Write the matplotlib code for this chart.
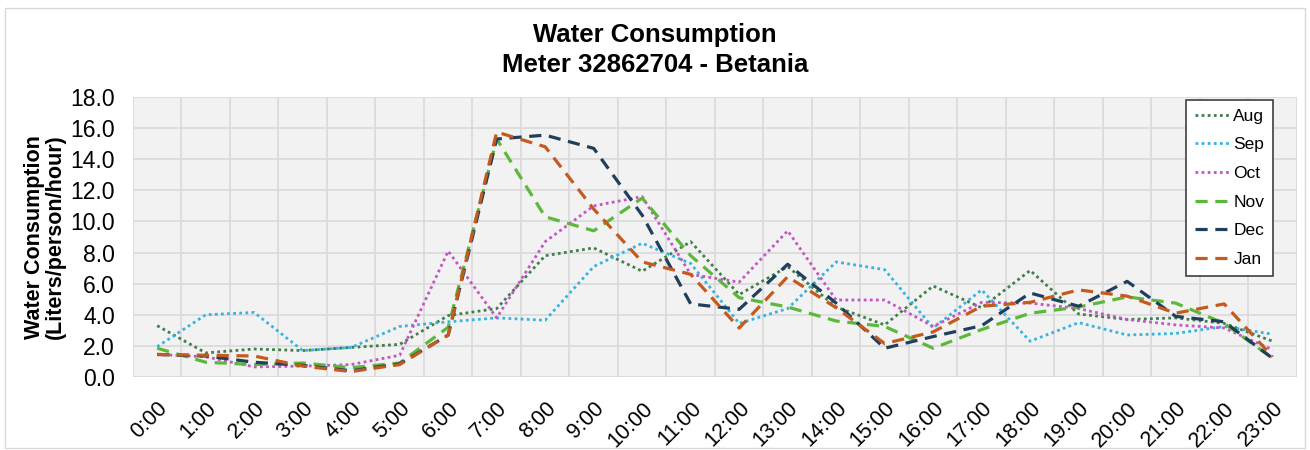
import numpy as np
import matplotlib.pyplot as plt
from matplotlib.patches import Rectangle

# hourly values (liters/person/hour)
hours = [f"{h}:00" for h in range(24)]
aug = [3.3, 1.55, 1.8, 1.7, 1.9, 2.1, 3.95, 4.4, 7.8, 8.3, 6.8, 8.7,
       5.3, 7.1, 4.5, 3.35, 5.85, 4.45, 6.85, 4.05, 3.7, 3.8, 3.45, 2.3]
sep = [1.95, 4.0, 4.15, 1.7, 1.9, 3.25, 3.55, 3.8, 3.65, 7.1, 8.6, 7.3,
       3.45, 4.4, 7.4, 6.9, 3.15, 5.6, 2.3, 3.5, 2.7, 2.8, 3.25, 2.75]
oct_ = [1.45, 1.3, 0.65, 0.7, 0.8, 1.4, 8.1, 3.8, 8.7, 11.0, 11.6, 6.6,
        6.1, 9.4, 4.95, 4.95, 3.25, 4.8, 4.75, 4.4, 3.7, 3.35, 3.15, 1.75]
nov = [1.85, 0.95, 0.8, 0.9, 0.6, 0.9, 3.2, 15.3, 10.3, 9.4, 11.5, 7.8,
       5.1, 4.5, 3.6, 3.25, 1.85, 3.05, 4.1, 4.5, 5.15, 4.75, 3.45, 1.2]
dec = [1.45, 1.35, 0.95, 0.75, 0.4, 0.85, 2.7, 15.3, 15.55, 14.7, 10.4, 4.7,
       4.35, 7.25, 4.75, 1.85, 2.6, 3.3, 5.4, 4.55, 6.15, 3.9, 3.55, 1.2]
jan = [1.45, 1.4, 1.35, 0.7, 0.35, 0.8, 2.7, 15.75, 14.8, 10.8, 7.4, 6.6,
       3.15, 6.45, 4.45, 2.15, 2.9, 4.55, 4.8, 5.6, 5.2, 4.1, 4.7, 1.3]

series = [
    ("Aug", aug, "#3f7f4a", "dot"),
    ("Sep", sep, "#35b4e0", "dot"),
    ("Oct", oct_, "#c455c4", "dot"),
    ("Nov", nov, "#5cb83a", "dash"),
    ("Dec", dec, "#1f3f5c", "dash"),
    ("Jan", jan, "#c55a1e", "dash"),
]

plt.rcParams['font.family'] = ['Liberation Sans', 'DejaVu Sans']

fig = plt.figure(figsize=(13.1, 4.5), dpi=100)
ax = fig.add_axes([0.1015, 0.1622, 0.8885, 0.6222])

# light frame round the whole chart
fig.patches.append(Rectangle((5 / 1310, 2 / 450), 1300 / 1310, 440 / 450,
                             transform=fig.transFigure, fill=False,
                             edgecolor="#d9d9d9", linewidth=1))

x = np.arange(len(hours))
for name, vals, color, style in series:
    if style == "dot":
        ax.plot(x, vals, color=color, linewidth=2.0, linestyle=(0, (1, 1.2)),
                label=name)
    else:
        ax.plot(x, vals, color=color, linewidth=2.3, linestyle=(0, (3.8, 2.4)),
                label=name)

ax.set_facecolor("#f2f2f2")
ax.set_xlim(-0.5, 23.5)
ax.set_ylim(0, 18)
ax.set_yticks(np.arange(0, 18.1, 2))
ax.set_yticklabels([f"{v:.1f}" for v in np.arange(0, 18.1, 2)], fontsize=16.5)
ax.set_xticks(x)
ax.set_xticklabels(hours, fontsize=15.5, rotation=45, ha="right",
                   rotation_mode="anchor")
ax.set_xticks(np.arange(-0.5, 24, 1), minor=True)
ax.tick_params(axis="both", which="both", length=0)
ax.tick_params(axis="x", pad=15)
ax.tick_params(axis="y", pad=13)

ax.grid(True, axis="y", color="#d9d9d9", linewidth=1.2)
ax.grid(True, axis="x", which="minor", color="#d9d9d9", linewidth=1.2)
ax.set_axisbelow(True)
for s in ax.spines.values():
    s.set_visible(False)

ax.set_ylabel("Water Consumption\n(Liters/person/hour)", fontsize=15.5,
              fontweight="bold", linespacing=1.0, labelpad=3)

fig.suptitle("Water Consumption\nMeter 32862704 - Betania", fontsize=18.5,
             fontweight="bold", y=0.948, linespacing=1.3)

leg = ax.legend(loc="upper right", bbox_to_anchor=(0.9795, 0.99),
                fontsize=12.5, frameon=True, fancybox=False,
                handlelength=2.0, handletextpad=0.2, labelspacing=0.78,
                borderpad=0.5, borderaxespad=0)
leg.get_frame().set_edgecolor("#404040")
leg.get_frame().set_linewidth(1.2)
leg.get_frame().set_facecolor("white")
leg.get_frame().set_alpha(1)

fig.savefig("out.png", dpi=100)
